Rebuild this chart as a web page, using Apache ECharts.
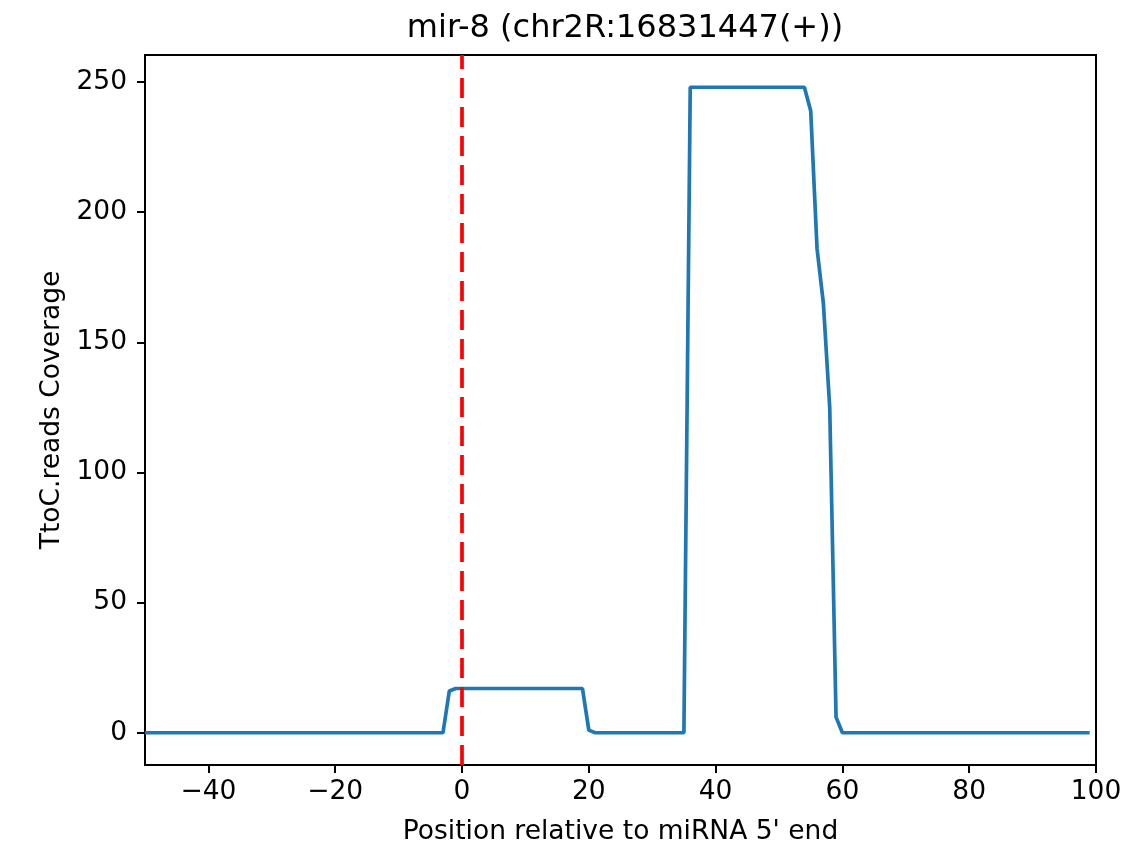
<!DOCTYPE html>
<html>
<head>
<meta charset="utf-8">
<script src="https://cdn.jsdelivr.net/npm/echarts@6/dist/echarts.min.js"></script>
<style>
html,body{margin:0;padding:0;background:#fff;}
#chart{width:1127px;height:845px;}
</style>
</head>
<body>
<div id="chart"></div>
<script>
const chartTitle = "mir-8 (chr2R:16831447(+))";
const xAxisLabel = "Position relative to miRNA 5' end";
const yAxisLabel = "TtoC.reads Coverage";

const positions = [
  -50,-49,-48,-47,-46,-45,-44,-43,-42,-41,
  -40,-39,-38,-37,-36,-35,-34,-33,-32,-31,
  -30,-29,-28,-27,-26,-25,-24,-23,-22,-21,
  -20,-19,-18,-17,-16,-15,-14,-13,-12,-11,
  -10,-9,-8,-7,-6,-5,-4,-3,-2,-1,
  0,1,2,3,4,5,6,7,8,9,
  10,11,12,13,14,15,16,17,18,19,
  20,21,22,23,24,25,26,27,28,29,
  30,31,32,33,34,35,36,37,38,39,
  40,41,42,43,44,45,46,47,48,49,
  50,51,52,53,54,55,56,57,58,59,
  60,61,62,63,64,65,66,67,68,69,
  70,71,72,73,74,75,76,77,78,79,
  80,81,82,83,84,85,86,87,88,89,
  90,91,92,93,94,95,96,97,98,99
];

const coverage = [
  0,0,0,0,0,0,0,0,0,0,
  0,0,0,0,0,0,0,0,0,0,
  0,0,0,0,0,0,0,0,0,0,
  0,0,0,0,0,0,0,0,0,0,
  0,0,0,0,0,0,0,0,16,17,
  17,17,17,17,17,17,17,17,17,17,
  17,17,17,17,17,17,17,17,17,17,
  1,0,0,0,0,0,0,0,0,0,
  0,0,0,0,0,0,248,248,248,248,
  248,248,248,248,248,248,248,248,248,248,
  248,248,248,248,248,239,186,165,125,6,
  0,0,0,0,0,0,0,0,0,0,
  0,0,0,0,0,0,0,0,0,0,
  0,0,0,0,0,0,0,0,0,0,
  0,0,0,0,0,0,0,0,0,0
];

const xTicks = [-40,-20,0,20,40,60,80,100];
const yTicks = [0,50,100,150,200,250];
const markerPosition = 0;

const seriesData = positions.map((p, i) => [p, coverage[i]]);
const FONT = "DejaVu Sans";

const chart = echarts.init(document.getElementById('chart'), null, {renderer: 'canvas'});
chart.setOption({
  animation: false,
  backgroundColor: '#ffffff',
  title: {
    text: chartTitle,
    left: 620,
    top: 8,
    textAlign: 'center',
    textStyle: {fontFamily: FONT, fontSize: 32, fontWeight: 'normal', color: '#000'}
  },
  grid: {
    left: 145, right: 31, top: 55, bottom: 80,
    containLabel: false,
    outerBoundsMode: 'none',
    show: true, borderColor: '#000', borderWidth: 2, backgroundColor: 'transparent'
  },
  xAxis: {
    type: 'value',
    min: -50, max: 100,
    name: xAxisLabel,
    nameLocation: 'middle',
    nameGap: 54,
    nameTextStyle: {fontFamily: FONT, fontSize: 26.5, color: '#000'},
    axisLine: {show: true, onZero: false, lineStyle: {color: '#000', width: 2}},
    axisTick: {show: true, inside: false, length: 8, lineStyle: {color: '#000', width: 2}, customValues: xTicks},
    axisLabel: {
      fontFamily: FONT, fontSize: 26.5, color: '#000', margin: 14,
      customValues: xTicks,
      formatter: v => (v < 0 ? '\u2212' + Math.abs(v) : String(v))
    },
    splitLine: {show: false}
  },
  yAxis: {
    type: 'value',
    min: -12.4, max: 260.4,
    name: yAxisLabel,
    nameLocation: 'middle',
    nameGap: 77,
    nameTextStyle: {fontFamily: FONT, fontSize: 26.5, color: '#000'},
    axisLine: {show: true, onZero: false, lineStyle: {color: '#000', width: 2}},
    axisTick: {show: true, inside: false, length: 8, lineStyle: {color: '#000', width: 2}, customValues: yTicks},
    axisLabel: {fontFamily: FONT, fontSize: 26.5, color: '#000', margin: 18, customValues: yTicks},
    splitLine: {show: false}
  },
  series: [{
    type: 'line',
    data: seriesData,
    showSymbol: false,
    symbol: 'none',
    lineStyle: {color: '#1f77b4', width: 3.7},
    itemStyle: {color: '#1f77b4'},
    clip: true,
    markLine: {
      silent: true,
      symbol: ['none', 'none'],
      label: {show: false},
      lineStyle: {color: '#ff0000', width: 3.7, type: [20, 9]},
      data: [{xAxis: markerPosition}],
      animation: false
    }
  }]
});
</script>
</body>
</html>
